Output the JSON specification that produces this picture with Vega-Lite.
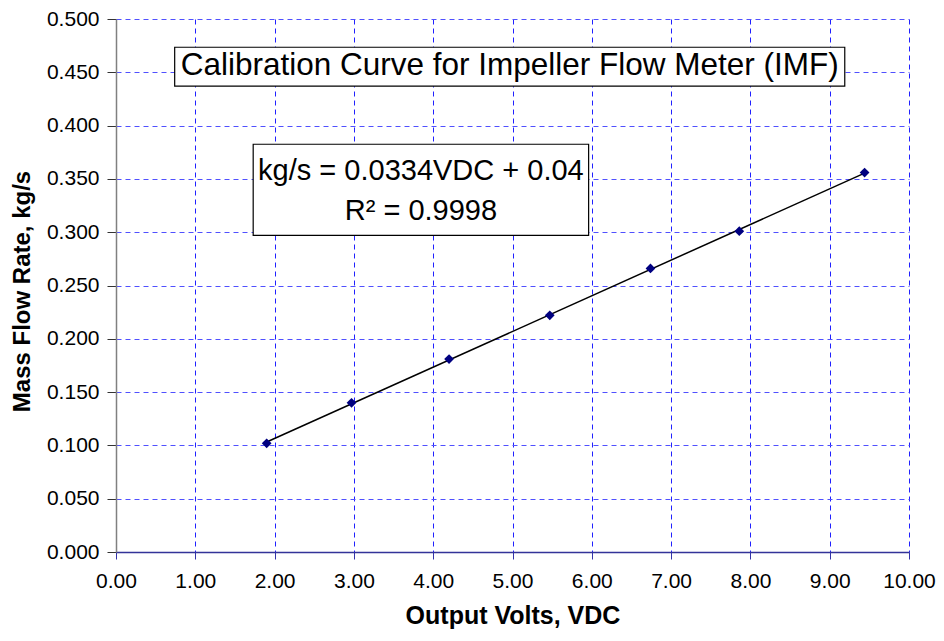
{
  "$schema": "https://vega.github.io/schema/vega-lite/v6.json",
  "width": 793,
  "height": 533,
  "autosize": {"type": "none"},
  "padding": {"left": 116, "top": 19, "right": 35, "bottom": 89},
  "background": "white",
  "config": {
    "font": "Liberation Sans",
    "view": {"stroke": null}
  },
  "datasets": {
    "points": [
      {"volts": 1.90, "flow": 0.102},
      {"volts": 2.97, "flow": 0.140},
      {"volts": 4.20, "flow": 0.181},
      {"volts": 5.47, "flow": 0.222},
      {"volts": 6.74, "flow": 0.266},
      {"volts": 7.86, "flow": 0.301},
      {"volts": 9.44, "flow": 0.356}
    ],
    "boxes": [
      {"x1": 0.74, "x2": 9.19, "y1": 0.4735, "y2": 0.437},
      {"x1": 1.73, "x2": 5.96, "y1": 0.3825, "y2": 0.297}
    ],
    "labels": [
      {"x": 4.965, "y": 0.4555, "text": "Calibration Curve for Impeller Flow Meter (IMF)", "size": 31.5},
      {"x": 3.845, "y": 0.3575, "text": "kg/s = 0.0334VDC + 0.04", "size": 29},
      {"x": 3.845, "y": 0.3195, "text": "R² = 0.9998", "size": 29}
    ]
  },
  "layer": [
    {
      "data": {"name": "points"},
      "transform": [{"regression": "flow", "on": "volts", "method": "linear"}],
      "mark": {"type": "line", "color": "black", "strokeWidth": 1.5},
      "encoding": {
        "x": {
          "field": "volts", "type": "quantitative",
          "scale": {"domain": [0, 10], "nice": false, "zero": false},
          "axis": {
            "title": "Output Volts, VDC",
            "titleFontSize": 25, "titleFontWeight": "bold", "titleColor": "black", "titlePadding": 12,
            "values": [0,1,2,3,4,5,6,7,8,9,10],
            "format": ".2f",
            "labelFontSize": 21, "labelColor": "black", "labelPadding": 11, "labelFlush": false,
            "domainColor": "#333399", "domainWidth": 1.5,
            "tickColor": "#3333aa", "tickSize": 7,
            "grid": true, "gridColor": "#2020ff", "gridDash": [5, 4], "gridWidth": 1
          }
        },
        "y": {
          "field": "flow", "type": "quantitative",
          "scale": {"domain": [0, 0.5], "nice": false},
          "axis": {
            "title": "Mass Flow Rate, kg/s",
            "titleFontSize": 24, "titleFontWeight": "bold", "titleColor": "black", "titlePadding": 12,
            "titleY": 272,
            "values": [0,0.05,0.1,0.15,0.2,0.25,0.3,0.35,0.4,0.45,0.5],
            "format": ".3f",
            "labelFontSize": 21, "labelColor": "black", "labelPadding": 8, "labelFlush": false,
            "domainColor": "#808080", "domainWidth": 1.5,
            "tickColor": "#333333", "tickSize": 9,
            "grid": true, "gridColor": "#5050ff", "gridDash": [5, 4], "gridWidth": 1
          }
        }
      }
    },
    {
      "data": {"name": "points"},
      "mark": {"type": "point", "shape": "diamond", "filled": true, "color": "#000080", "size": 95, "opacity": 1},
      "encoding": {
        "x": {"field": "volts", "type": "quantitative"},
        "y": {"field": "flow", "type": "quantitative"}
      }
    },
    {
      "data": {"name": "boxes"},
      "mark": {"type": "rect", "fill": "white", "stroke": "black", "strokeWidth": 1.2},
      "encoding": {
        "x": {"field": "x1", "type": "quantitative"},
        "x2": {"field": "x2"},
        "y": {"field": "y1", "type": "quantitative"},
        "y2": {"field": "y2"}
      }
    },
    {
      "data": {"name": "labels"},
      "mark": {"type": "text", "color": "black", "align": "center", "baseline": "middle"},
      "encoding": {
        "x": {"field": "x", "type": "quantitative"},
        "y": {"field": "y", "type": "quantitative"},
        "text": {"field": "text"},
        "size": {"field": "size", "type": "quantitative", "scale": null}
      }
    }
  ]
}
